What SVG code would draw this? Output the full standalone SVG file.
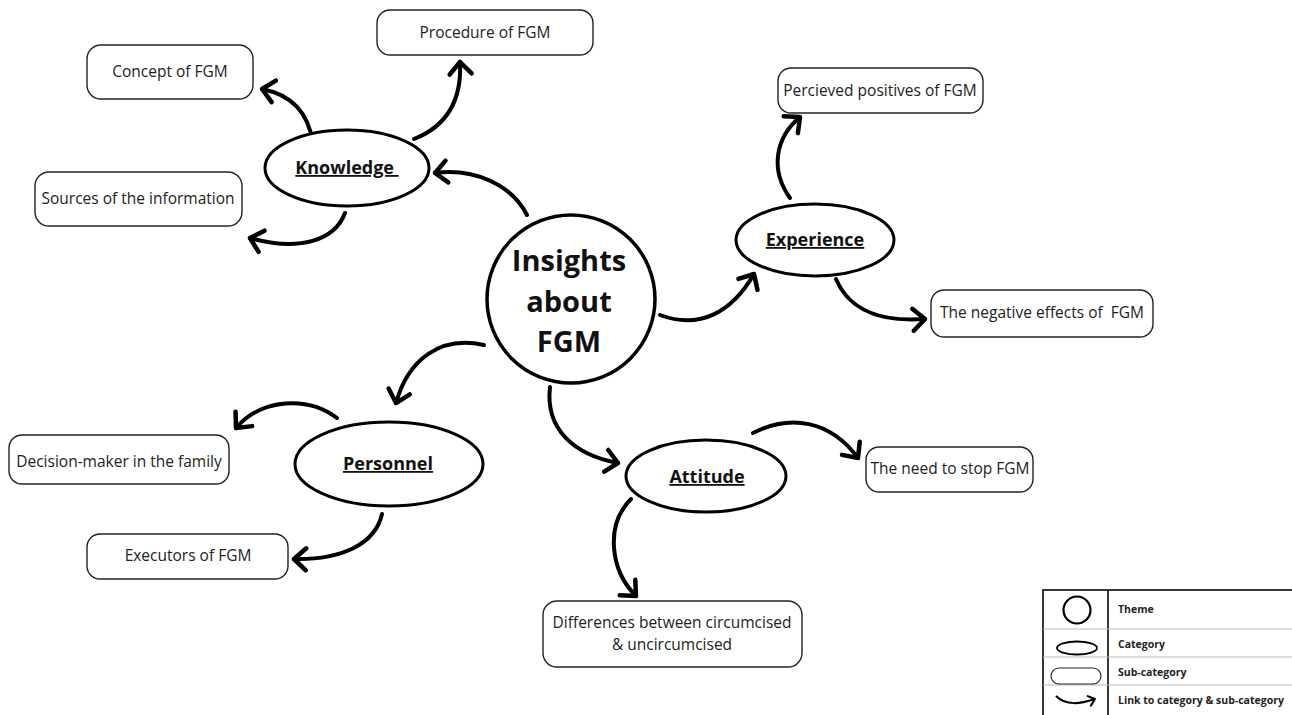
<svg xmlns="http://www.w3.org/2000/svg" width="1292" height="715" viewBox="0 0 1292 715">
<style>
.box{fill:#fff;stroke:#222;stroke-width:1.4}
.st{font-family:"Open Sans","Noto Sans",sans-serif;font-size:15.5px;fill:#222;text-anchor:middle}
.cat{fill:#fff;stroke:#000;stroke-width:3}
.ct{font-family:"Open Sans","Noto Sans",sans-serif;font-size:18px;font-weight:700;fill:#111;text-anchor:middle;text-decoration:underline}
.th{font-family:"Open Sans","Noto Sans",sans-serif;font-size:29px;font-weight:700;fill:#111;text-anchor:middle}
.lk{fill:none;stroke:#000;stroke-width:4;stroke-linecap:round}
.lg{font-family:"Open Sans","Noto Sans",sans-serif;font-size:10.5px;font-weight:700;fill:#222}
</style>
<defs>
<marker id="ah" markerUnits="userSpaceOnUse" markerWidth="30" markerHeight="30" viewBox="-15 -15 30 30" refX="0" refY="0" orient="auto">
<path d="M-12,-11 L0,0 L-12,11" fill="none" stroke="#000" stroke-width="4.5" stroke-linecap="round" stroke-linejoin="round"/>
</marker>
<marker id="ahs" markerUnits="userSpaceOnUse" markerWidth="16" markerHeight="16" viewBox="-8 -8 16 16" refX="0" refY="0" orient="auto">
<path d="M-6,-5 L0,0 L-6,5" fill="none" stroke="#000" stroke-width="2" stroke-linecap="round" stroke-linejoin="round"/>
</marker>
</defs>
<rect width="1292" height="715" fill="#fff"/>
<g id="connectors">
<path class="lk" marker-end="url(#ah)" d="M527,215 C512,185 475,168 435,173"/>
<path class="lk" marker-end="url(#ah)" d="M414,139 C447,126 462,100 460,62"/>
<path class="lk" marker-end="url(#ah)" d="M313,143 C308,112 292,95 262,89"/>
<path class="lk" marker-end="url(#ah)" d="M345,213 C335,240 300,252 250,238"/>
<path class="lk" marker-end="url(#ah)" d="M660,315 C700,330 732,312 754,274"/>
<path class="lk" marker-end="url(#ah)" d="M790,198 C770,170 775,138 800,117"/>
<path class="lk" marker-end="url(#ah)" d="M836,279 C850,312 882,322 925,319"/>
<path class="lk" marker-end="url(#ah)" d="M484,345 C440,335 408,360 396,403"/>
<path class="lk" marker-end="url(#ah)" d="M337,418 C308,396 262,398 236,428"/>
<path class="lk" marker-end="url(#ah)" d="M382,514 C375,545 340,560 294,559"/>
<path class="lk" marker-end="url(#ah)" d="M550,387 C545,430 575,455 618,463"/>
<path class="lk" marker-end="url(#ah)" d="M753,433 C790,414 830,420 858,458"/>
<path class="lk" marker-end="url(#ah)" d="M631,499 C605,525 610,570 636,596"/>
</g>
<g id="theme">
<circle cx="571" cy="299" r="84" fill="#fff" stroke="#000" stroke-width="3.5"/>
<text class="th" x="569" y="271">Insights</text>
<text class="th" x="569" y="312">about</text>
<text class="th" x="569" y="352">FGM</text>
</g>
<g id="knowledge">
<ellipse class="cat" cx="347" cy="168" rx="82" ry="38"/>
<text class="ct" x="347" y="174" xml:space="preserve">Knowledge </text>
</g>
<g id="experience">
<ellipse class="cat" cx="815" cy="240" rx="79" ry="36"/>
<text class="ct" x="815" y="246">Experience</text>
</g>
<g id="personnel">
<ellipse class="cat" cx="389" cy="464" rx="94" ry="42"/>
<text class="ct" x="388" y="470">Personnel</text>
</g>
<g id="attitude">
<ellipse class="cat" cx="706" cy="476" rx="80" ry="36"/>
<text class="ct" x="707" y="483">Attitude</text>
</g>
<g id="procedure">
<rect class="box" x="377" y="10" width="216" height="45" rx="13"/>
<text class="st" x="485" y="38">Procedure of FGM</text>
</g>
<g id="concept">
<rect class="box" x="87" y="45" width="166" height="54" rx="14"/>
<text class="st" x="170" y="77">Concept of FGM</text>
</g>
<g id="sources">
<rect class="box" x="35" y="172" width="207" height="54" rx="14"/>
<text class="st" x="138" y="204">Sources of the information</text>
</g>
<g id="positives">
<rect class="box" x="778" y="68" width="205" height="45" rx="13"/>
<text class="st" x="880" y="96">Percieved positives of FGM</text>
</g>
<g id="negative">
<rect class="box" x="931" y="290" width="222" height="47" rx="13"/>
<text class="st" x="1042" y="318" xml:space="preserve">The negative effects of  FGM</text>
</g>
<g id="decision">
<rect class="box" x="9" y="435" width="220" height="49" rx="13"/>
<text class="st" x="119" y="467">Decision-maker in the family</text>
</g>
<g id="executors">
<rect class="box" x="87" y="534" width="201" height="45" rx="13"/>
<text class="st" x="188" y="561">Executors of FGM</text>
</g>
<g id="stop">
<rect class="box" x="866" y="447" width="167" height="45" rx="13"/>
<text class="st" x="950" y="474">The need to stop FGM</text>
</g>
<g id="differences">
<rect class="box" x="543" y="601" width="259" height="66" rx="14"/>
<text class="st" x="672" y="628">Differences between circumcised</text>
<text class="st" x="672" y="650">&amp; uncircumcised</text>
</g>
<g id="legend">
<rect x="1043" y="590" width="260" height="140" fill="#fff" stroke="#222" stroke-width="1.8"/>
<line x1="1108" y1="590" x2="1108" y2="715" stroke="#222" stroke-width="1.8"/>
<line x1="1043" y1="629" x2="1292" y2="629" stroke="#bbb" stroke-width="1"/>
<line x1="1043" y1="657" x2="1292" y2="657" stroke="#bbb" stroke-width="1"/>
<line x1="1043" y1="685" x2="1292" y2="685" stroke="#bbb" stroke-width="1"/>
<circle cx="1077" cy="610" r="13.5" fill="none" stroke="#000" stroke-width="2.2"/>
<ellipse cx="1077" cy="648" rx="20" ry="6.5" fill="none" stroke="#000" stroke-width="1.8"/>
<rect x="1051" y="668" width="50" height="16" rx="8" fill="none" stroke="#222" stroke-width="1.1"/>
<path d="M1056,696 C1066,706 1080,704 1095,699" fill="none" stroke="#000" stroke-width="2" marker-end="url(#ahs)"/>
<text class="lg" x="1118" y="613">Theme</text>
<text class="lg" x="1118" y="648">Category</text>
<text class="lg" x="1118" y="676">Sub-category</text>
<text class="lg" x="1118" y="704">Link to category &amp; sub-category</text>
</g>
</svg>
